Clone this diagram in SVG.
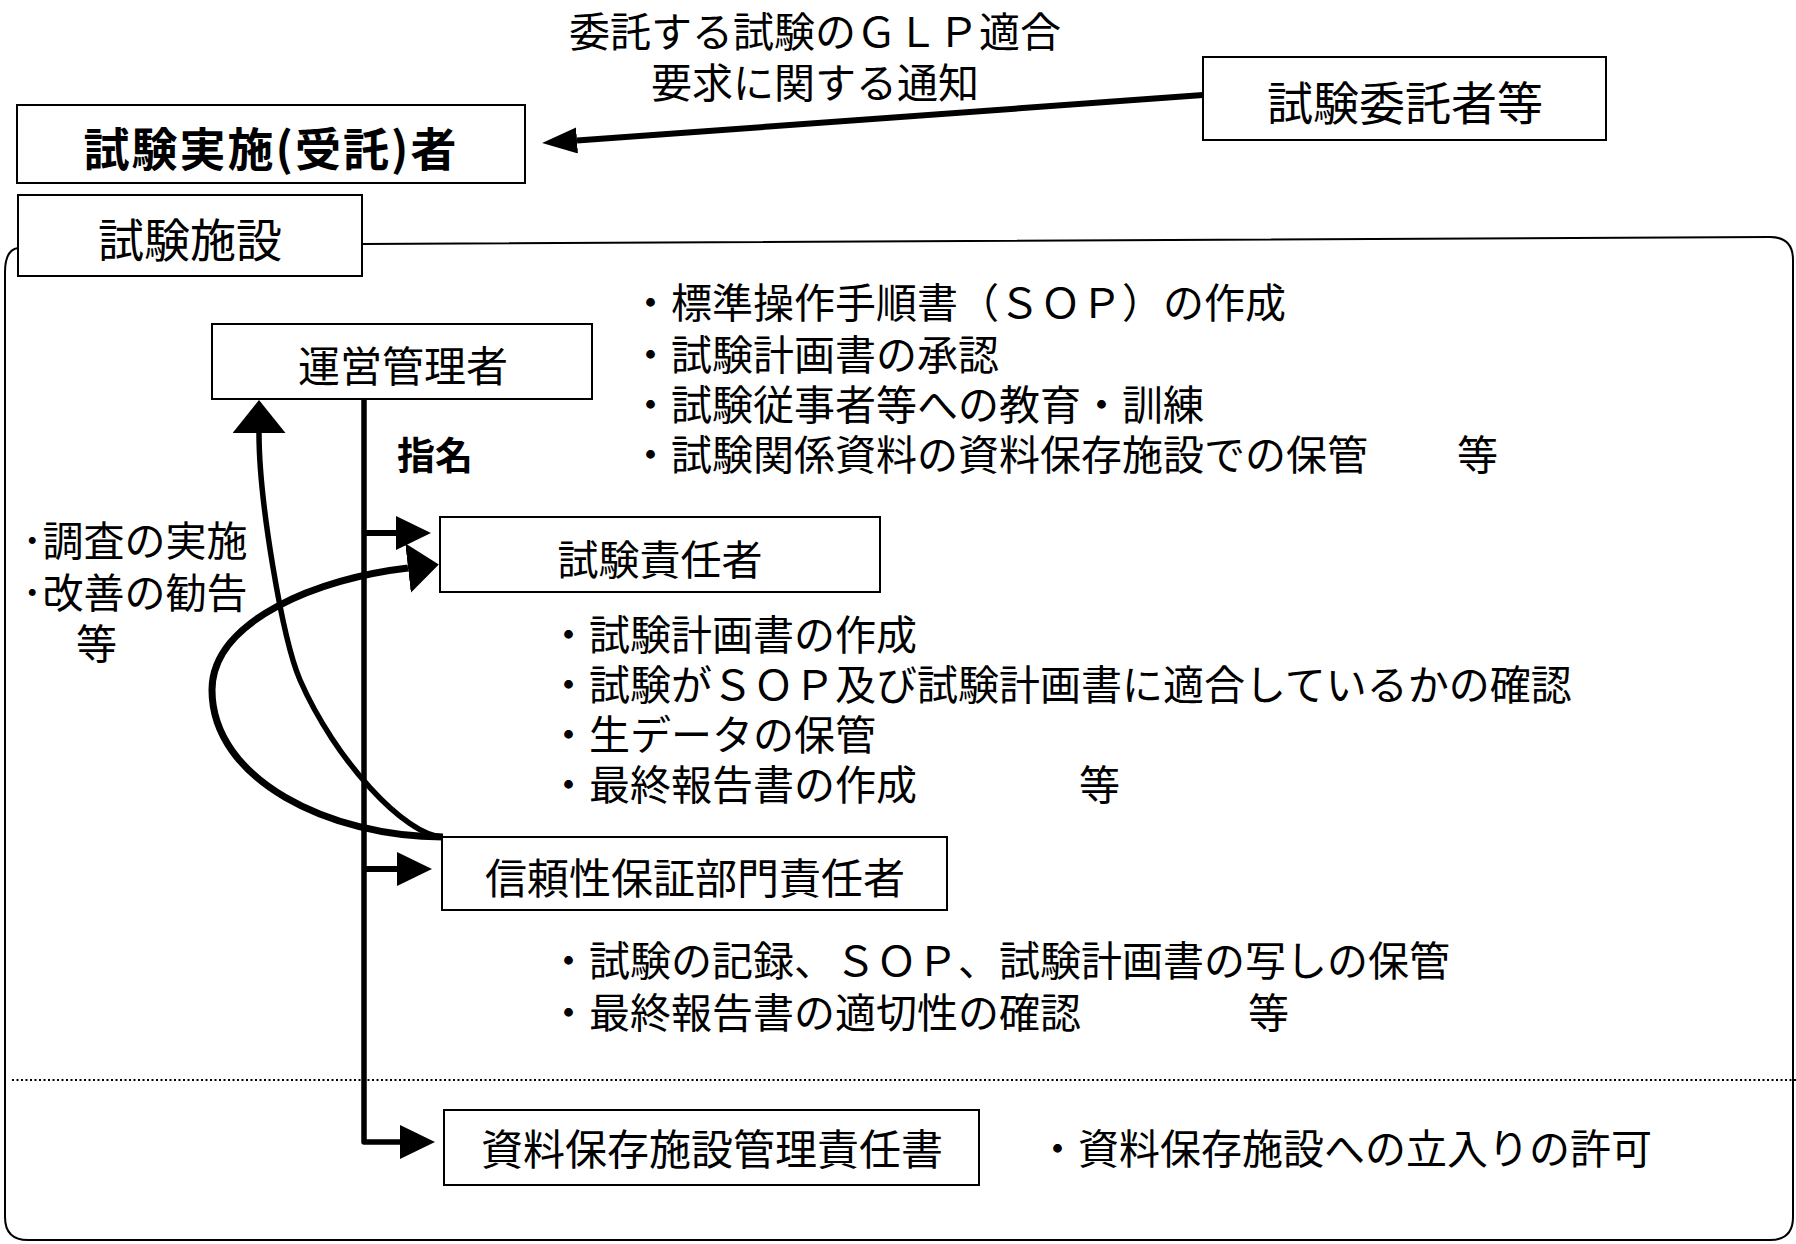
<svg xmlns="http://www.w3.org/2000/svg" width="1796" height="1244" viewBox="0 0 1796 1244">
<style>
text{font-family:"Noto Sans CJK JP","Noto Sans CJK SC",sans-serif;fill:#000;dominant-baseline:central}
.t41{font-size:41px}
.t42{font-size:42px}
.t46{font-size:46px}
.b{font-weight:bold}
.box{fill:#fff;stroke:#000;stroke-width:2}
.ln{fill:none;stroke:#000;stroke-linejoin:round}
</style>
<defs>
<marker id="ahS" markerUnits="userSpaceOnUse" markerWidth="36" markerHeight="36" refX="0" refY="17" orient="auto"><path d="M0,0 L35,17 L0,34 z" fill="#000"/></marker>
<marker id="ahT" markerUnits="userSpaceOnUse" markerWidth="36" markerHeight="28" refX="0" refY="13" orient="auto"><path d="M0,0 L35,13 L0,26 z" fill="#000"/></marker>
<marker id="ahL" markerUnits="userSpaceOnUse" markerWidth="34" markerHeight="54" refX="0" refY="26.5" orient="auto"><path d="M0,0 L33,26.5 L0,53 z" fill="#000"/></marker>
<marker id="ahB" markerUnits="userSpaceOnUse" markerWidth="32" markerHeight="52" refX="0" refY="25" orient="auto"><path d="M0,0 L31,25 L0,50 z" fill="#000"/></marker>
</defs>
<rect width="1796" height="1244" fill="#fff"/>

<g id="facility-frame">
<path class="ln" stroke-width="2" d="M362,244 L1770,237 Q1793,237 1793,260 V1217 Q1793,1240 1770,1240 H28 Q5,1240 5,1217 V272 Q5,250 18,248"/>
<line x1="12" y1="1080" x2="1796" y2="1080" stroke="#000" stroke-width="2" stroke-dasharray="2 2.5"/>
</g>

<g id="title">
<text class="t41" x="815" y="29" text-anchor="middle">委託する試験のＧＬＰ適合</text>
<text class="t41" x="815" y="80" text-anchor="middle">要求に関する通知</text>
</g>

<g id="connectors">
<path class="ln" stroke-width="6" d="M1203,95 L577,140.5" marker-end="url(#ahT)"/>
<path class="ln" stroke-width="5.5" d="M364,399 V1142 H400" marker-end="url(#ahS)"/>
<path class="ln" stroke-width="6" d="M364,533 H396" marker-end="url(#ahS)"/>
<path class="ln" stroke-width="6" d="M364,869 H397" marker-end="url(#ahS)"/>
<path class="ln" stroke-width="5.5" d="M443,837 C405,836 335,760 300,680 C282,638 259,500 259,433" marker-end="url(#ahL)"/>
<path class="ln" stroke-width="7" d="M443,837 C330,837 212,780 212,690 C212,620 320,578 408,568" marker-end="url(#ahB)"/>
</g>

<g id="node-jisshisha">
<rect class="box" x="17" y="105" width="508" height="78"/>
<text class="t46 b" x="271" y="146" text-anchor="middle" letter-spacing="2">試験実施(受託)者</text>
</g>

<g id="node-itakusha">
<rect class="box" x="1203" y="57" width="403" height="83"/>
<text class="t46" x="1405" y="100" text-anchor="middle">試験委託者等</text>
</g>

<g id="node-shisetsu">
<rect class="box" x="18" y="195" width="344" height="81"/>
<text class="t46" x="190" y="237" text-anchor="middle">試験施設</text>
</g>

<g id="node-uneikanrisha">
<rect class="box" x="212" y="324" width="380" height="75"/>
<text class="t42" x="403" y="363" text-anchor="middle">運営管理者</text>
</g>

<g id="label-shimei">
<text class="b" font-size="38" x="397" y="452">指名</text>
</g>

<g id="node-shiken-sekininsha">
<rect class="box" x="440" y="517" width="440" height="75"/>
<text class="t41" x="660" y="557" text-anchor="middle">試験責任者</text>
</g>

<g id="node-shinraisei">
<rect class="box" x="442" y="837" width="505" height="73"/>
<text class="t42" x="695" y="875" text-anchor="middle">信頼性保証部門責任者</text>
</g>

<g id="node-shiryo">
<rect class="box" x="444" y="1110" width="535" height="75"/>
<text class="t42" x="712" y="1146" text-anchor="middle">資料保存施設管理責任書</text>
</g>

<g id="list-unei">
<text class="t41" x="630" y="300">・標準操作手順書（ＳＯＰ）の作成</text>
<text class="t41" x="630" y="352">・試験計画書の承認</text>
<text class="t41" x="630" y="402">・試験従事者等への教育・訓練</text>
<text class="t41" x="630" y="452">・試験関係資料の資料保存施設での保管<tspan x="1457">等</tspan></text>
</g>

<g id="list-left">
<text class="t41" x="22" y="538">･調査の実施</text>
<text class="t41" x="22" y="590">･改善の勧告</text>
<text class="t41" x="76" y="641">等</text>
</g>

<g id="list-shiken">
<text class="t41" x="548" y="632">・試験計画書の作成</text>
<text class="t41" x="548" y="682">・試験がＳＯＰ及び試験計画書に適合しているかの確認</text>
<text class="t41" x="548" y="732">・生データの保管</text>
<text class="t41" x="548" y="782">・最終報告書の作成<tspan x="1079">等</tspan></text>
</g>

<g id="list-shinraisei">
<text class="t41" x="548" y="958">・試験の記録、ＳＯＰ、試験計画書の写しの保管</text>
<text class="t41" x="548" y="1010">・最終報告書の適切性の確認<tspan x="1248">等</tspan></text>
</g>

<g id="list-shiryo">
<text class="t41" x="1037" y="1146">・資料保存施設への立入りの許可</text>
</g>
</svg>
